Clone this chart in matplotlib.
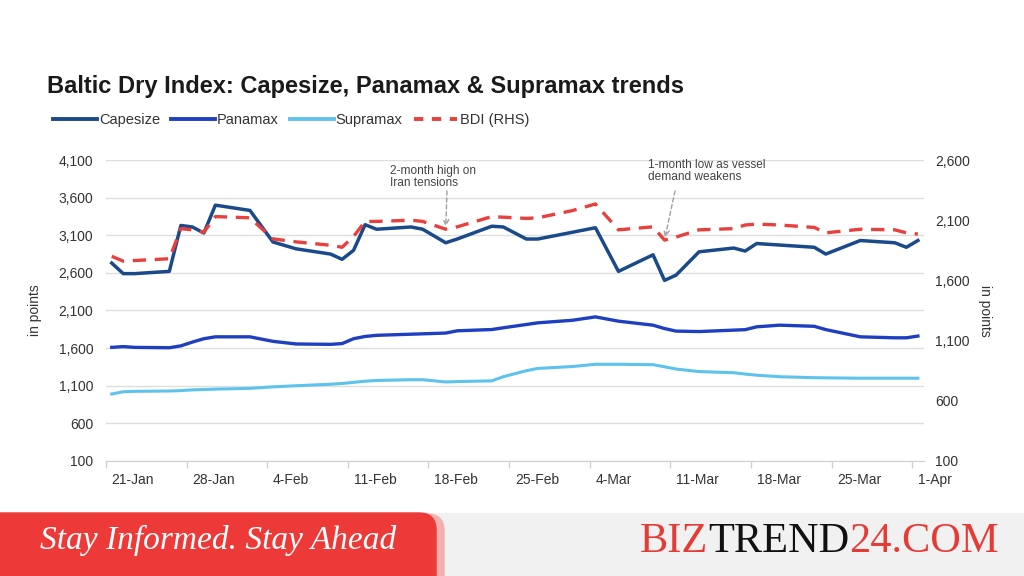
import matplotlib
matplotlib.use("Agg")
import matplotlib.pyplot as plt
from matplotlib.patches import FancyBboxPatch, Rectangle
from matplotlib.lines import Line2D
from matplotlib.text import Annotation
import pandas as pd

# daily readings (business days) taken off the chart
dates = ["2026-01-21", "2026-01-22", "2026-01-23", "2026-01-26", "2026-01-27",
         "2026-01-28", "2026-01-29", "2026-01-30", "2026-02-02", "2026-02-04",
         "2026-02-06", "2026-02-09", "2026-02-10", "2026-02-11", "2026-02-12",
         "2026-02-13", "2026-02-16", "2026-02-17", "2026-02-19", "2026-02-20",
         "2026-02-23", "2026-02-24", "2026-02-26", "2026-02-27", "2026-03-02",
         "2026-03-04", "2026-03-06", "2026-03-09", "2026-03-10", "2026-03-11",
         "2026-03-13", "2026-03-16", "2026-03-17", "2026-03-18", "2026-03-20",
         "2026-03-23", "2026-03-24", "2026-03-27", "2026-03-30", "2026-03-31",
         "2026-04-01"]

capesize = [2730, 2590, 2590, 2620, 3230, 3210, 3130, 3500, 3430, 3010,
            2920, 2850, 2780, 2900, 3240, 3180, 3210, 3180, 3000, 3050,
            3220, 3210, 3050, 3050, 3140, 3200, 2620, 2840, 2500, 2570,
            2880, 2930, 2890, 2990, 2970, 2940, 2850, 3030, 3000, 2940,
            3030]

panamax = [1610, 1620, 1610, 1605, 1630, 1680, 1725, 1750, 1750, 1690,
           1655, 1650, 1660, 1725, 1755, 1770, 1785, 1790, 1800, 1830,
           1847, 1870, 1914, 1936, 1970, 2015, 1958, 1905, 1860, 1826,
           1820, 1839, 1845, 1883, 1905, 1890, 1846, 1750, 1737, 1737,
           1760]

supramax = [990, 1020, 1025, 1030, 1035, 1045, 1050, 1055, 1065, 1085,
            1100, 1120, 1130, 1145, 1160, 1170, 1180, 1180, 1150, 1155,
            1165, 1220, 1300, 1330, 1355, 1385, 1385, 1380, 1352, 1322,
            1288, 1273, 1255, 1240, 1220, 1207, 1205, 1200, 1200, 1200,
            1200]

bdi = [1800, 1760, 1765, 1780, 2030, 2020, 2000, 2130, 2120, 1945,
       1920, 1892, 1875, 1965, 2090, 2090, 2100, 2090, 2025, 2045,
       2130, 2125, 2115, 2120, 2180, 2235, 2020, 2045, 1935, 1960,
       2020, 2030, 2060, 2068, 2060, 2040, 1995, 2025, 2020, 1995,
       1985]

tick_dates = ["2026-01-21", "2026-01-28", "2026-02-04", "2026-02-11", "2026-02-18",
              "2026-02-25", "2026-03-04", "2026-03-11", "2026-03-18", "2026-03-25",
              "2026-04-01"]
tick_labels = ["21-Jan", "28-Jan", "4-Feb", "11-Feb", "18-Feb", "25-Feb",
               "4-Mar", "11-Mar", "18-Mar", "25-Mar", "1-Apr"]
left_ticks = [100, 600, 1100, 1600, 2100, 2600, 3100, 3600, 4100]
right_ticks = [100, 600, 1100, 1600, 2100, 2600]

plt.rcParams["font.family"] = ["Liberation Sans", "DejaVu Sans"]

C_CAPE = "#1a4a8a"
C_PANA = "#1e3fc0"
C_SUPRA = "#5ec3ec"
C_BDI = "#e8403c"
TXT = "#333333"

x = pd.to_datetime(dates)
xt = pd.to_datetime(tick_dates)

fig = plt.figure(figsize=(10.24, 5.76), dpi=100)
ax = fig.add_axes([0.1035, 0.1997, 0.7985, 0.5225])
ax2 = ax.twinx()

ax.plot(x, capesize, color=C_CAPE, lw=2.5, zorder=3)
ax.plot(x, panamax, color=C_PANA, lw=2.4, zorder=3)
ax.plot(x, supramax, color=C_SUPRA, lw=2.2, zorder=3)
ax2.plot(x, bdi, color=C_BDI, lw=2.4, dashes=(4, 2.6), zorder=3)

ax.set_xlim(xt[0] - pd.Timedelta(hours=12), xt[-1] + pd.Timedelta(hours=12))
ax.set_ylim(left_ticks[0], left_ticks[-1])
ax2.set_ylim(right_ticks[0], right_ticks[-1])

ax.set_yticks(left_ticks)
ax.set_yticklabels([f"{v:,}" for v in left_ticks])
ax2.set_yticks(right_ticks)
ax2.set_yticklabels([f"{v:,}" for v in right_ticks])

ax.set_xticks(xt)
ax.set_xticklabels(tick_labels, ha="left")
ax.set_xticks(xt - pd.Timedelta(hours=12), minor=True)
ax.tick_params(axis="x", which="major", length=0, pad=9, labelsize=10, labelcolor=TXT)
ax.tick_params(axis="x", which="minor", length=5, color="#d0d0d0", width=1)
ax.tick_params(axis="y", length=0, pad=9, labelsize=10, labelcolor=TXT)
ax2.tick_params(axis="y", length=0, pad=8, labelsize=10, labelcolor=TXT)

ax.yaxis.grid(True, color="#dedede", lw=1)
ax.set_axisbelow(True)
for a in (ax, ax2):
    for s in ("top", "left", "right"):
        a.spines[s].set_visible(False)
    a.spines["bottom"].set_color("#d0d0d0")
ax2.spines["bottom"].set_visible(False)

ax.set_ylabel("in points", fontsize=10, color=TXT, labelpad=12)
ax2.set_ylabel("in points", fontsize=10, color=TXT, rotation=270, labelpad=16)

# title and legend
fig.text(47 / 1024, 1 - 86 / 576, "Baltic Dry Index: Capesize, Panamax & Supramax trends",
         fontsize=17, fontweight="bold", color="#1a1a1a", va="center")
handles = [Line2D([], [], color=C_CAPE, lw=2.8),
           Line2D([], [], color=C_PANA, lw=2.8),
           Line2D([], [], color=C_SUPRA, lw=2.8),
           Line2D([], [], color=C_BDI, lw=2.8, dashes=(2.4, 2.2))]
fig.legend(handles, ["Capesize", "Panamax", "Supramax", "BDI (RHS)"],
           loc="center left", bbox_to_anchor=(40 / 1024, 1 - 120 / 576), ncol=4,
           frameon=False, fontsize=10.5, handlelength=3.0, handletextpad=0.15,
           columnspacing=0.75, labelcolor=TXT)

# annotations
fig.text(390, 576 - 165, "2-month high on\nIran tensions", transform=None,
         fontsize=8.6, color="#444444", va="top", ha="left", linespacing=1.05)
ax2.annotate("", xy=(x[18], bdi[18]), xytext=(447, 576 - 191), textcoords="figure pixels",
             arrowprops=dict(arrowstyle="->", color="#a0a0a0", ls=(0, (3, 2)), lw=1,
                             shrinkA=0, shrinkB=2))
fig.text(648, 576 - 159, "1-month low as vessel\ndemand weakens", transform=None,
         fontsize=8.6, color="#444444", va="top", ha="left", linespacing=1.05)
ax2.annotate("", xy=(x[28], bdi[28]), xytext=(675, 576 - 191), textcoords="figure pixels",
             arrowprops=dict(arrowstyle="->", color="#a0a0a0", ls=(0, (3, 2)), lw=1,
                             shrinkA=0, shrinkB=2))

# footer banner
fig.patches.append(Rectangle((0, 0), 1, 63 / 576, transform=fig.transFigure,
                             color="#f1f1f1", zorder=0))
fig.patches.append(FancyBboxPatch((-0.5, -0.5), 4.94, 1.12,
                                  boxstyle="round,pad=0,rounding_size=0.17",
                                  transform=fig.dpi_scale_trans, color="#f3b0ae", zorder=1))
fig.patches.append(FancyBboxPatch((-0.5, -0.5), 4.86, 1.13,
                                  boxstyle="round,pad=0,rounding_size=0.17",
                                  transform=fig.dpi_scale_trans, color="#ed3937", zorder=2))
fig.text(40 / 1024, (576 - 540) / 576, "Stay Informed. Stay Ahead", color="white",
         family="Liberation Serif", style="italic", fontsize=24, va="center", zorder=3)

t1 = fig.text(640 / 1024, (576 - 561) / 576, "BIZ", color="#e63a35",
              family="Liberation Serif", fontsize=30.5, va="bottom")
t2 = fig.add_artist(Annotation("TREND", xy=(1, 0), xycoords=t1, va="bottom",
                               color="#111111", family="Liberation Serif", fontsize=30.5))
t3 = fig.add_artist(Annotation("24.COM", xy=(1, 0), xycoords=t2, va="bottom",
                               color="#e63a35", family="Liberation Serif", fontsize=30.5))

fig.savefig("out.png", dpi=100)
